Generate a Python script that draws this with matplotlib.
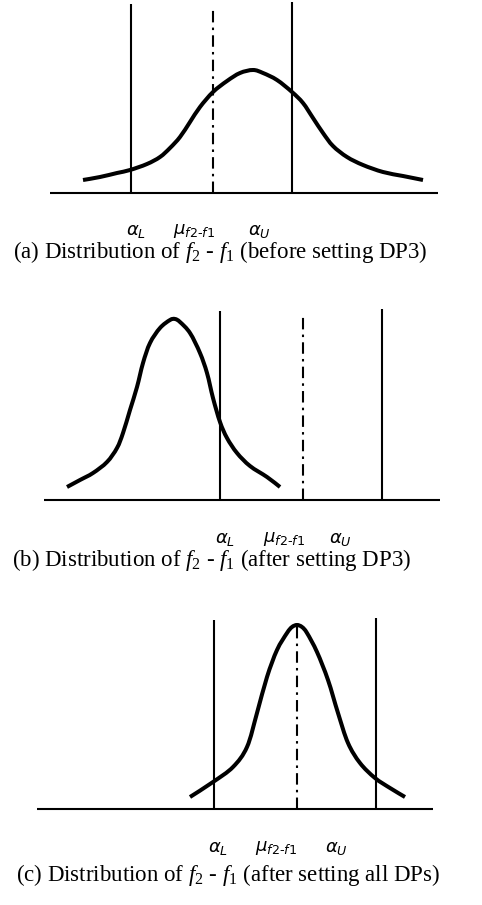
import numpy as np
import matplotlib
matplotlib.use('Agg')
from matplotlib import pyplot as plt
from matplotlib.path import Path
from matplotlib.patches import PathPatch

plt.rcParams['mathtext.fontset'] = 'custom'
plt.rcParams['mathtext.rm'] = 'Liberation Serif'
plt.rcParams['mathtext.it'] = 'Liberation Serif:italic'

# curve points (x position, height above the axis line)
a_x = [83, 100, 117, 130, 147, 160, 170, 180, 190, 200, 213, 227, 240, 253,
       263, 277, 292, 303, 313, 323, 333, 347, 363, 383, 403, 423]
a_h = [13, 16, 20, 23, 29, 36, 45, 56, 71, 86, 101, 112, 120, 123,
       120, 113, 101, 90, 75, 60, 47, 36, 28, 21, 17, 13]

b_x = [67, 80, 93, 107, 117, 123, 130, 137, 143, 150, 160, 170, 175,
       180, 190, 200, 207, 213, 220, 227, 237, 250, 267, 280]
b_h = [13, 20, 27, 38, 52, 67, 90, 113, 137, 157, 172, 180, 181,
       178, 167, 147, 127, 102, 78, 62, 47, 34, 23, 13]

c_x = [190, 213, 233, 247, 257, 267, 277, 287, 292, 297, 302, 307, 317,
       328, 338, 348, 360, 375, 390, 405]
c_h = [12, 27, 42, 62, 96, 132, 159, 176, 182, 184, 182, 176, 157,
       129, 96, 66, 46, 31, 21, 12]

# alpha_L, mu, alpha_U positions and line tops
a_lines = [131, 213, 292]
a_tops = [189, 187, 191]
b_lines = [220, 303, 382]
b_tops = [189, 187, 191]
c_lines = [214, 297, 376]
c_tops = [189, 185, 191]

a_axis = [50, 438]
b_axis = [44, 440]
c_axis = [37, 433]

labels = [r'$\alpha_L$', r'$\mu_{f2\text{-}f1}$', r'$\alpha_U$']
a_lab_x = [136, 194, 259]
b_lab_x = [225, 284, 340]
c_lab_x = [218, 276, 336]

captions = [r'(a) Distribution of $f_2$ - $f_1$ (before setting DP3)',
            r'(b) Distribution of $f_2$ - $f_1$ (after setting DP3)',
            r'(c) Distribution of $f_2$ - $f_1$ (after setting all DPs)']
cap_x = [13, 12, 16]


def smooth_path(xs, ys):
    # catmull-rom through the read points, drawn as cubic bezier segments
    p = np.column_stack([xs, ys]).astype(float)
    pts = np.vstack([p[0], p, p[-1]])
    verts = [p[0]]
    codes = [Path.MOVETO]
    for k in range(1, len(pts) - 2):
        p0, p1, p2, p3 = pts[k - 1], pts[k], pts[k + 1], pts[k + 2]
        verts += [p1 + (p2 - p0) / 6, p2 - (p3 - p1) / 6, p2]
        codes += [Path.CURVE4] * 3
    return Path(verts, codes)


W, H = 482, 905
fig = plt.figure(figsize=(W / 100, H / 100), dpi=100)

# (baseline pixel row, panel height in px)
panels = [
    (193, 193, a_x, a_h, a_lines, a_tops, a_axis, a_lab_x),
    (500, 220, b_x, b_h, b_lines, b_tops, b_axis, b_lab_x),
    (809, 219, c_x, c_h, c_lines, c_tops, c_axis, c_lab_x),
]

dashdot = (0, (5.5, 2.5, 1.2, 2.5))

for i, (base, ph, xs, hs, vl, vt, axl, labx) in enumerate(panels):
    ax = fig.add_axes([0, (H - base) / H, 1, ph / H])
    ax.set_xlim(0, W)
    ax.set_ylim(0, ph)
    ax.axis('off')

    ax.plot(axl, [0, 0], color='black', lw=1.5, solid_capstyle='butt', clip_on=False)
    for j, (x, t) in enumerate(zip(vl, vt)):
        ls = dashdot if j == 1 else '-'
        ax.plot([x, x], [0, t], color='black', lw=1.5, linestyle=ls,
                solid_capstyle='butt', clip_on=False)
    ax.add_patch(PathPatch(smooth_path(xs, hs), fill=False, edgecolor='black',
                           lw=2.9, capstyle='butt', joinstyle='round', clip_on=False))

    lab_y = [-38, -39, -39][i]
    for lx, lab in zip(labx, labels):
        ax.text(lx, lab_y, lab, ha='center', va='center', fontsize=13,
                math_fontfamily='dejavusans', clip_on=False)
    cap_y = [-65, -66, -72][i]
    ax.text(cap_x[i], cap_y, captions[i], ha='left', va='baseline', fontsize=16.5,
            family='Liberation Serif', clip_on=False)

fig.savefig('out.png', dpi=100)
